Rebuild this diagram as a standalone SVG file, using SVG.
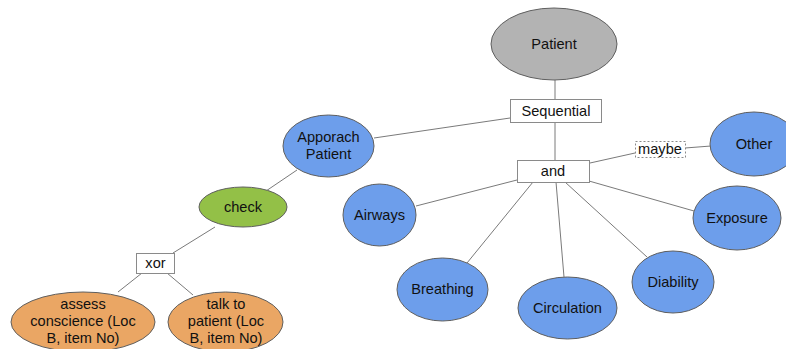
<svg xmlns="http://www.w3.org/2000/svg" width="786" height="349" viewBox="0 0 786 349">
  <style>
    .edge { stroke: #7a7a7a; stroke-width: 1; fill: none; }
    .node { stroke: #5f5f5f; stroke-width: 1; }
    .gray { fill: #b3b3b3; }
    .blue { fill: #6d9eeb; }
    .green { fill: #93c047; }
    .orange { fill: #eaa664; }
    .box { fill: #ffffff; stroke: #8a8a8a; stroke-width: 1; }
    .dash { fill: #ffffff; stroke: #8a8a8a; stroke-width: 1; stroke-dasharray: 2 2; }
    text { font-family: "Liberation Sans", Arial, sans-serif; font-size: 14.6px; fill: #111; text-anchor: middle; }
  </style>
  <rect width="786" height="349" fill="#ffffff"/>

  <g id="connectors">
    <line class="edge" x1="555" y1="80" x2="555" y2="99"/>
    <line class="edge" x1="510" y1="118" x2="374" y2="138"/>
    <line class="edge" x1="555" y1="122" x2="555" y2="160"/>
    <line class="edge" x1="590" y1="163" x2="635" y2="153"/>
    <line class="edge" x1="685" y1="148" x2="711" y2="146"/>
    <line class="edge" x1="517" y1="180" x2="416" y2="206"/>
    <line class="edge" x1="589" y1="181" x2="694" y2="211"/>
    <line class="edge" x1="533" y1="182" x2="467" y2="263"/>
    <line class="edge" x1="556" y1="182" x2="564" y2="277"/>
    <line class="edge" x1="565" y1="182" x2="647" y2="257"/>
    <line class="edge" x1="297" y1="170" x2="266" y2="191"/>
    <line class="edge" x1="215" y1="227" x2="173" y2="253"/>
    <line class="edge" x1="142" y1="273" x2="118" y2="292"/>
    <line class="edge" x1="167" y1="273" x2="193" y2="295"/>
  </g>

  <g id="patient">
    <ellipse class="node gray" cx="554" cy="44" rx="63" ry="36"/>
    <text x="554" y="49">Patient</text>
  </g>
  <g id="sequential">
    <rect class="box" x="510.5" y="99.5" width="91" height="23"/>
    <text x="556" y="116">Sequential</text>
  </g>
  <g id="and">
    <rect class="box" x="517.5" y="160.5" width="72" height="22"/>
    <text x="553" y="176">and</text>
  </g>
  <g id="maybe">
    <rect class="dash" x="635.5" y="141.5" width="50" height="16"/>
    <text x="660" y="154">maybe</text>
  </g>
  <g id="other">
    <ellipse class="node blue" cx="754" cy="144" rx="44" ry="32"/>
    <text x="754" y="149">Other</text>
  </g>
  <g id="exposure">
    <ellipse class="node blue" cx="737" cy="218" rx="44" ry="32"/>
    <text x="737" y="223">Exposure</text>
  </g>
  <g id="approach-patient">
    <ellipse class="node blue" cx="328.5" cy="146" rx="45.5" ry="31"/>
    <text x="328.5" y="142">Apporach</text>
    <text x="328.5" y="159">Patient</text>
  </g>
  <g id="airways">
    <ellipse class="node blue" cx="379.5" cy="215" rx="36.5" ry="31"/>
    <text x="379.5" y="220">Airways</text>
  </g>
  <g id="breathing">
    <ellipse class="node blue" cx="442.5" cy="289.5" rx="45.5" ry="31.5"/>
    <text x="442.5" y="294">Breathing</text>
  </g>
  <g id="circulation">
    <ellipse class="node blue" cx="567.5" cy="308" rx="49.5" ry="31"/>
    <text x="567.5" y="313">Circulation</text>
  </g>
  <g id="diability">
    <ellipse class="node blue" cx="673" cy="282" rx="41" ry="31"/>
    <text x="673" y="287">Diability</text>
  </g>
  <g id="check">
    <ellipse class="node green" cx="243" cy="207" rx="44" ry="20"/>
    <text x="243" y="212">check</text>
  </g>
  <g id="xor">
    <rect class="box" x="136.5" y="253.5" width="38" height="20"/>
    <text x="155.5" y="268">xor</text>
  </g>
  <g id="assess-conscience">
    <ellipse class="node orange" cx="83" cy="322" rx="72" ry="30"/>
    <text x="83" y="309">assess</text>
    <text x="83" y="326">conscience (Loc</text>
    <text x="83" y="343">B, item No)</text>
  </g>
  <g id="talk-to-patient">
    <ellipse class="node orange" cx="225.5" cy="322" rx="57.5" ry="30"/>
    <text x="226" y="309">talk to</text>
    <text x="226" y="326">patient (Loc</text>
    <text x="226" y="343">B, item No)</text>
  </g>
</svg>
